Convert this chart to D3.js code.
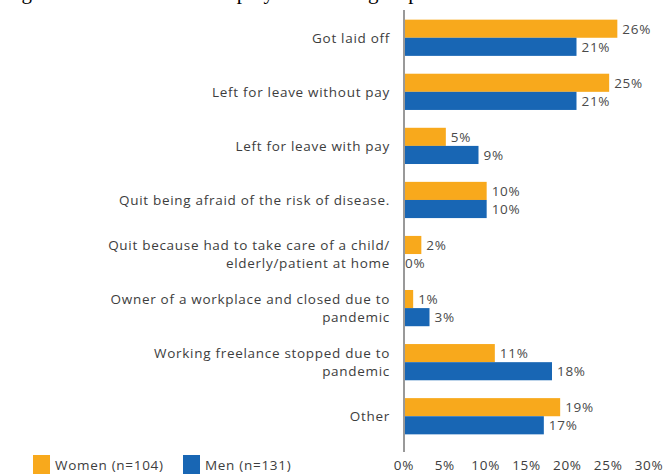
<!DOCTYPE html>
<html>
<head>
<meta charset="utf-8">
<title>Reasons for leaving employment</title>
<script src="https://cdn.jsdelivr.net/npm/d3@7"></script>
<style>
body { margin: 0; background: #fff; }
text { font-family: "Open Sans", "DejaVu Sans", sans-serif; letter-spacing: 0.7px; }
</style>
</head>
<body>
<svg id="chart" width="664" height="476"></svg>
<script>
// data
var categories = [
  ["Got laid off"],
  ["Left for leave without pay"],
  ["Left for leave with pay"],
  ["Quit being afraid of the risk of disease."],
  ["Quit because had to take care of a child/", "elderly/patient at home"],
  ["Owner of a workplace and closed due to", "pandemic"],
  ["Working freelance stopped due to", "pandemic"],
  ["Other"]
];
var women = [26, 25, 5, 10, 2, 1, 11, 19];
var men = [21, 21, 9, 10, 0, 3, 18, 17];
var series = ["Women (n=104)", "Men (n=131)"];
var ticks = [0, 5, 10, 15, 20, 25, 30];

var colors = ["#F8A91C", "#1866B4"];

var svg = d3.select("#chart");

// title of the page, mostly cut off by the top edge in the reference
svg.append("text")
  .attr("x", 4)
  .attr("y", -1)
  .style("font-family", "'Liberation Serif', serif")
  .style("letter-spacing", "0px")
  .style("font-size", "21px")
  .attr("fill", "#000")
  .text("Figure 6. Reasons for unemployment among respondents");

var x = d3.scaleLinear().domain([0, 30]).range([404, 649]);
var y = d3.scaleBand().domain(d3.range(categories.length)).range([11, 443]).paddingInner(0.33).paddingOuter(0.16);
var sub = d3.scaleBand().domain([0, 1]).range([0, y.bandwidth()]);

var groups = svg.selectAll("g.grp")
  .data(categories)
  .enter().append("g")
  .attr("class", "grp")
  .attr("transform", function(d, i) { return "translate(0," + y(i) + ")"; });

// bars
groups.each(function(d, i) {
  var g = d3.select(this);
  [women[i], men[i]].forEach(function(v, s) {
    g.append("rect")
      .attr("x", x(0) + 1)
      .attr("y", sub(s))
      .attr("width", x(v) - x(0))
      .attr("height", sub.bandwidth())
      .attr("fill", colors[s]);
    g.append("text")
      .attr("x", x(v) + (v > 0 ? 6 : 1))
      .attr("y", sub(s) + sub.bandwidth() / 2)
      .attr("dy", "0.36em")
      .style("font-size", "13.5px")
      .attr("fill", "#4a4a4a")
      .text(v + "%");
  });
  // category label
  var t = g.append("text")
    .attr("text-anchor", "end")
    .style("font-size", "13.5px")
    .attr("fill", "#3d3d3d");
  var n = d.length;
  d.forEach(function(line, k) {
    t.append("tspan")
      .attr("x", 390)
      .attr("y", y.bandwidth() / 2 + (k - (n - 1) / 2) * 18)
      .attr("dy", "0.36em")
      .text(line);
  });
});

// vertical axis line
svg.append("line")
  .attr("x1", x(0)).attr("x2", x(0))
  .attr("y1", 10).attr("y2", 452)
  .attr("stroke", "#555").attr("stroke-width", 1.2);

// bottom tick labels
svg.selectAll("text.tick")
  .data(ticks)
  .enter().append("text")
  .attr("class", "tick")
  .attr("x", function(d) { return x(d); })
  .attr("y", 470)
  .attr("text-anchor", "middle")
  .style("font-size", "13.5px")
  .attr("fill", "#3d3d3d")
  .text(function(d) { return d + "%"; });

// legend
var legX = [33, 183];
series.forEach(function(s, i) {
  svg.append("rect")
    .attr("x", legX[i]).attr("y", 455)
    .attr("width", 17).attr("height", 19)
    .attr("fill", colors[i]);
  svg.append("text")
    .attr("x", legX[i] + 22).attr("y", 470)
    .style("font-size", "13.5px")
    .attr("fill", "#3d3d3d")
    .text(s);
});
</script>
</body>
</html>
